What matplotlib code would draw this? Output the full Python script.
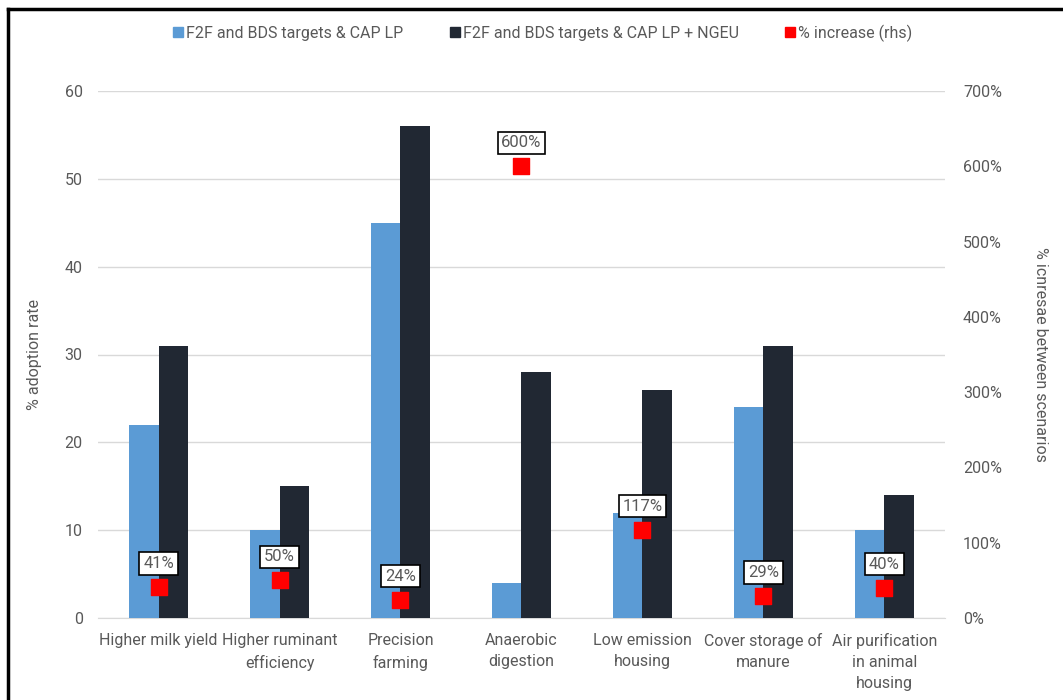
import matplotlib
matplotlib.use("Agg")
import matplotlib.pyplot as plt
from matplotlib.lines import Line2D
import numpy as np

categories = ["Higher milk yield", "Higher ruminant\nefficiency", "Precision\nfarming",
              "Anaerobic\ndigestion", "Low emission\nhousing", "Cover storage of\nmanure",
              "Air purification\nin animal\nhousing"]
cap_lp = [22, 10, 45, 4, 12, 24, 10]
cap_lp_ngeu = [31, 15, 56, 28, 26, 31, 14]
pct_increase = [41, 50, 24, 600, 117, 29, 40]
left_ticks = [0, 10, 20, 30, 40, 50, 60]
right_ticks = [0, 100, 200, 300, 400, 500, 600, 700]

FONT = ["Roboto", "DejaVu Sans"]
plt.rcParams['font.family'] = FONT
GRAY = "#595959"
BLUE = "#5b9bd5"
DARK = "#212833"
FS = 11.5

fig = plt.figure(figsize=(10.63, 7.0), dpi=100)
ax = fig.add_axes([98/1063, 1-618/700, (945-98)/1063, (618-91)/700])
x = np.arange(len(categories))
w = 0.24
ax.bar(x - w/2, cap_lp, w, color=BLUE, zorder=3, label="F2F and BDS targets & CAP LP")
ax.bar(x + w/2, cap_lp_ngeu, w, color=DARK, zorder=3, label="F2F and BDS targets & CAP LP + NGEU")
ax.set_xlim(-0.5, len(categories) - 0.5)
ax.set_ylim(0, 60)
ax.set_yticks(left_ticks)
ax.grid(axis='y', color="#d9d9d9", lw=1, zorder=0)
ax.set_xticks(x)
ax.set_xticklabels(categories, fontsize=FS, color=GRAY, linespacing=1.5)
ax.tick_params(axis='both', length=0, colors=GRAY, labelsize=FS)
ax.tick_params(axis='y', pad=11)
ax.tick_params(axis='x', pad=11)
for s in ax.spines.values():
    s.set_visible(False)
ax.spines['bottom'].set_visible(True)
ax.spines['bottom'].set_color("#d9d9d9")
ax.set_ylabel("% adoption rate", fontsize=FS, color=GRAY, va='center')
ax.yaxis.set_label_coords((35 - 98) / 847, 0.5)

ax2 = ax.twinx()
ax2.set_ylim(0, 700)
ax2.set_yticks(right_ticks)
ax2.set_yticklabels([f"{t}%" for t in right_ticks])
ax2.tick_params(axis='y', length=0, colors=GRAY, labelsize=FS, pad=13)
for s in ax2.spines.values():
    s.set_visible(False)
ax2.scatter(x, pct_increase, marker='s', s=130, color="#ff0000", zorder=5,
            label="% increase (rhs)")
for xi, p in zip(x, pct_increase):
    ax2.annotate(f"{p}%", (xi, p), xytext=(0, 17), textcoords='offset points',
                 ha='center', va='center', fontsize=FS + 0.5, color=GRAY,
                 bbox=dict(boxstyle='square,pad=0.22', fc='white', ec='black', lw=1.2))
ax2.set_ylabel("% icnresae between scenarios", fontsize=FS, color=GRAY, rotation=270,
               va='center')
ax2.yaxis.set_label_coords((1040 - 98) / 847, 0.5)

handles = [Line2D([], [], marker='s', ls='none', color=BLUE, markersize=7),
           Line2D([], [], marker='s', ls='none', color=DARK, markersize=7),
           Line2D([], [], marker='s', ls='none', color="#ff0000", markersize=7)]
labels = ["F2F and BDS targets & CAP LP", "F2F and BDS targets & CAP LP + NGEU", "% increase (rhs)"]
fig.legend(handles, labels, loc='center', bbox_to_anchor=(542/1063, 1-33/700), ncol=3,
           frameon=False, fontsize=FS, labelcolor=GRAY, handletextpad=0.1,
           columnspacing=2.8, handlelength=0.8)

# figure border (left and top)
fig.add_artist(Line2D([8/1063, 8/1063], [0, 1-9/700], color='black', lw=2.5,
                      transform=fig.transFigure))
fig.add_artist(Line2D([8/1063, 1], [1-9/700, 1-9/700], color='black', lw=2.5,
                      transform=fig.transFigure))

fig.savefig("out.png", dpi=100)
